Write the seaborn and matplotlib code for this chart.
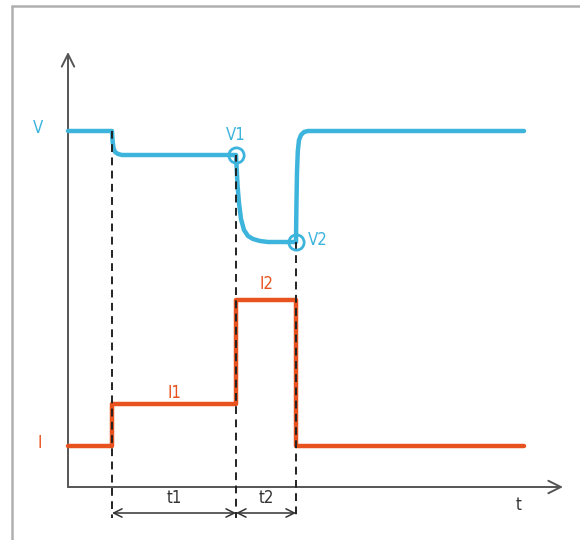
import matplotlib
matplotlib.use("Agg")
import matplotlib.pyplot as plt
import matplotlib.lines as mlines
import pandas as pd
import seaborn as sns

sns.set_style("white")
plt.rcParams["font.family"] = ["DejaVu Sans"]
plt.rcParams["font.stretch"] = "condensed"

# Event times (time axis units)
t_step1 = 44
t_step2 = 168
t_end_pulse = 228
t_end = 456

# Voltage trace (time, level), including the relaxation curves
v_time = [0, 44, 44.6, 45.5, 47, 50, 54, 168, 168.6, 169.5, 171, 173, 176, 180,
          185, 192, 200, 228, 228.4, 229, 229.8, 231, 233, 236, 240, 456]
v_level = [356, 356, 346, 339, 335, 333, 332, 332, 320, 302, 284, 268, 257, 251,
           248, 246, 245, 245, 280, 315, 336, 347, 352, 355, 356, 356]

# Current trace (step pulses)
i_time = [0, 44, 44, 168, 168, 228, 228, 456]
i_level = [41, 41, 83, 83, 187, 187, 41, 41]

# Marked voltage points
v1_point = (168, 332)
v2_point = (228, 245)

BLUE = "#3db4dc"
ORANGE = "#e8521f"
AXIS = "#555555"

fig = plt.figure(figsize=(5.8, 5.4), dpi=100)
ax = fig.add_axes([0, 0, 1, 1])

# Frame lines along the top and left edges
fig.add_artist(mlines.Line2D([11.5 / 580, 1], [1 - 5.5 / 540] * 2,
                             transform=fig.transFigure, color="#b0b0b0", lw=1.8))
fig.add_artist(mlines.Line2D([11.5 / 580] * 2, [0, 1 - 5.5 / 540],
                             transform=fig.transFigure, color="#b0b0b0", lw=1.8))

# Axes with open arrow heads
arrow_kw = dict(arrowstyle="->,head_length=0.9,head_width=0.45", color=AXIS,
                lw=1.4, shrinkA=0, shrinkB=0)
ax.annotate("", xy=(0, 435), xytext=(0, 0), arrowprops=arrow_kw)
ax.annotate("", xy=(495, 0), xytext=(0, 0), arrowprops=arrow_kw)

# Traces
v_df = pd.DataFrame({"t": v_time, "v": v_level})
i_df = pd.DataFrame({"t": i_time, "i": i_level})
sns.lineplot(data=v_df, x="t", y="v", sort=False, estimator=None, color=BLUE,
             lw=3.2, ax=ax, zorder=3)
sns.lineplot(data=i_df, x="t", y="i", sort=False, estimator=None, color=ORANGE,
             lw=3.2, ax=ax, zorder=3)

# Dashed event markers, drawn over the traces
dash_kw = dict(color="#222222", lw=1.4, ls=(0, (4, 2.8)), zorder=4)
ax.plot([t_step1, t_step1], [356, -31], **dash_kw)
ax.plot([t_step2, t_step2], [v1_point[1], -31], **dash_kw)
ax.plot([t_end_pulse, t_end_pulse], [v2_point[1], -31], **dash_kw)

# Open circles at V1 and V2
for px, py in (v1_point, v2_point):
    ax.plot(px, py, marker="o", ms=11, mfc="none", mec=BLUE, mew=2.0, zorder=5)

# Duration dimension arrows
dim_kw = dict(arrowstyle="<->,head_length=0.6,head_width=0.3", color="#333333",
              lw=1.1, shrinkA=0, shrinkB=0)
ax.annotate("", xy=(t_step1, -26), xytext=(t_step2, -26), arrowprops=dim_kw)
ax.annotate("", xy=(t_step2, -26), xytext=(t_end_pulse, -26), arrowprops=dim_kw)

ax.set_xlim(-68, 512)
ax.set_ylim(-53, 487)
ax.set_axis_off()

fs = 12
ax.text(-30, 359, "V", color=BLUE, fontsize=fs, ha="center", va="center")
ax.text(-28, 44, "I", color=ORANGE, fontsize=fs, ha="center", va="center")
ax.text(v1_point[0], v1_point[1] + 20, "V1", color=BLUE, fontsize=fs,
        ha="center", va="center")
ax.text(v2_point[0] + 22, v2_point[1] + 2, "V2", color=BLUE, fontsize=fs,
        ha="center", va="center")
ax.text((t_step1 + t_step2) / 2, 94, "I1", color=ORANGE, fontsize=fs,
        ha="center", va="center")
ax.text((t_step2 + t_end_pulse) / 2, 203, "I2", color=ORANGE, fontsize=fs,
        ha="center", va="center")
ax.text((t_step1 + t_step2) / 2, -11, "t1", color="#333333", fontsize=fs,
        ha="center", va="center")
ax.text((t_step2 + t_end_pulse) / 2, -11, "t2", color="#333333", fontsize=fs,
        ha="center", va="center")
ax.text(451, -18, "t", color="#333333", fontsize=fs, ha="center", va="center")

fig.savefig("out.png", dpi=100)
